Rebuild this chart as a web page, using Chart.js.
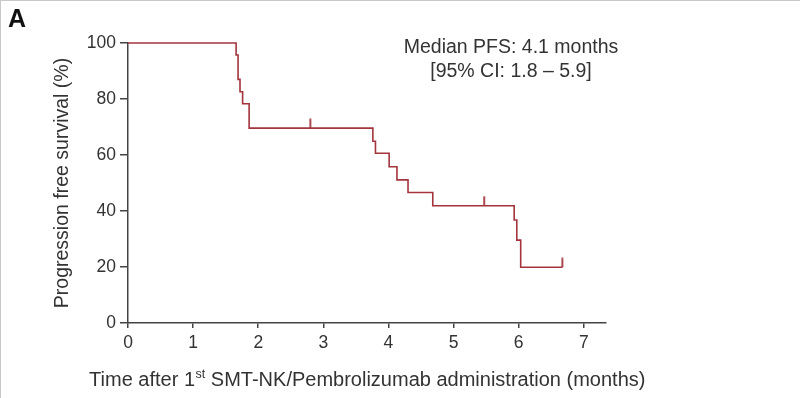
<!DOCTYPE html>
<html>
<head>
<meta charset="utf-8">
<script src="https://cdn.jsdelivr.net/npm/chart.js@4.4.0/dist/chart.umd.min.js"></script>
<style>
  html, body { margin: 0; padding: 0; background: #fff; }
  #wrap { position: relative; width: 800px; height: 398px; box-sizing: border-box; border-top: 1px solid #c8c8c8; border-left: 1px solid #c8c8c8; }
</style>
</head>
<body>
<div id="wrap"><canvas id="grafico"></canvas></div>
<script>
// curva Kaplan-Meier (meses, %)
let tiempos = [0, 1.66, 1.69, 1.72, 1.76, 1.86, 3.76, 3.80, 4.01, 4.13, 4.30, 4.68, 5.93, 5.97, 6.03, 6.67];
let supervivencia = [100, 95.7, 87.0, 82.6, 78.3, 69.6, 64.9, 60.6, 55.8, 51.1, 46.6, 41.9, 36.8, 29.6, 19.9, 19.9];

// censurados
let tiemposCensura = [2.80, 5.47, 6.67];
let supCensura = [69.6, 41.9, 19.9];

let ticksX = [0, 1, 2, 3, 4, 5, 6, 7];
let ticksY = [0, 20, 40, 60, 80, 100];

const ROJO = "#a3343c";
const GRIS = "#444";
const FUENTE = "'Liberation Sans', Arial, sans-serif";

// marca de censura: raya vertical hacia arriba
function marcaCensura() {
    let c = document.createElement("canvas");
    c.width = 4; c.height = 20;
    let ctx = c.getContext("2d");
    ctx.strokeStyle = ROJO;
    ctx.lineWidth = 1.8;
    ctx.beginPath();
    ctx.moveTo(2, 0.5);
    ctx.lineTo(2, 10);
    ctx.stroke();
    return c;
}

// textos extra: letra del panel, mediana y titulo del eje x con superindice
const textos = {
    id: "textos",
    afterDraw(chart) {
        let ctx = chart.ctx;
        ctx.save();
        ctx.fillStyle = "#111";
        ctx.font = "bold 25px " + FUENTE;
        ctx.textBaseline = "middle";
        ctx.textAlign = "left";
        ctx.fillText("A", 7, 19);

        ctx.fillStyle = "#333";
        ctx.font = "19.5px " + FUENTE;
        ctx.textAlign = "center";
        ctx.fillText("Median PFS: 4.1 months", 510, 47);
        ctx.fillText("[95% CI: 1.8 \u2013 5.9]", 510, 71);

        // titulo eje x, centrado bajo el area
        let p1 = "Time after 1", sup = "st", p2 = " SMT-NK/Pembrolizumab administration (months)";
        ctx.textAlign = "left";
        ctx.textBaseline = "alphabetic";
        let fGrande = "20px " + FUENTE, fChica = "12.5px " + FUENTE;
        ctx.font = fGrande;
        let w1 = ctx.measureText(p1).width, w3 = ctx.measureText(p2).width;
        ctx.font = fChica;
        let w2 = ctx.measureText(sup).width;
        let area = chart.chartArea;
        let x = (area.left + area.right) / 2 - (w1 + w2 + w3) / 2;
        let y = 385;
        ctx.font = fGrande;
        ctx.fillText(p1, x, y);
        x += w1;
        ctx.font = fChica;
        ctx.fillText(sup, x + 0.5, y - 8);
        x += w2 + 0.5;
        ctx.font = fGrande;
        ctx.fillText(p2, x, y);
        ctx.restore();
    }
};

new Chart(document.getElementById("grafico"), {
    data: {
        datasets: [
            {
                type: "line",
                data: tiempos.map((t, i) => ({ x: t, y: supervivencia[i] })),
                stepped: "before",
                borderColor: ROJO,
                borderWidth: 1.6,
                pointRadius: 0,
                fill: false,
                clip: 6
            },
            {
                type: "scatter",
                data: tiemposCensura.map((t, i) => ({ x: t, y: supCensura[i] })),
                pointStyle: marcaCensura(),
                pointRadius: 5,
                clip: 12
            }
        ]
    },
    options: {
        responsive: true,
        maintainAspectRatio: false,
        animation: false,
        layout: { padding: { left: 0, top: 42, right: 194, bottom: 0 } },
        plugins: { legend: { display: false }, tooltip: { enabled: false } },
        scales: {
            x: {
                type: "linear",
                min: 0,
                max: 7.34,
                afterFit: s => { s.height = 75; },
                afterBuildTicks: s => { s.ticks = ticksX.map(v => ({ value: v })); },
                ticks: { color: "#333", font: { size: 17.5, family: FUENTE }, padding: 5, maxRotation: 0 },
                grid: { drawOnChartArea: false, drawTicks: true, tickLength: 5, color: GRIS, lineWidth: 1.5 },
                border: { color: GRIS, width: 1.5 }
            },
            y: {
                min: 0,
                max: 100,
                afterFit: s => { s.width = 127; },
                afterBuildTicks: s => { s.ticks = ticksY.map(v => ({ value: v })); },
                ticks: { color: "#333", font: { size: 17.5, family: FUENTE }, padding: 4 },
                grid: { drawOnChartArea: false, drawTicks: true, tickLength: 8, color: GRIS, lineWidth: 1.5 },
                border: { color: GRIS, width: 1.5 },
                title: {
                    display: true,
                    text: "Progression free survival (%)",
                    color: "#333",
                    font: { size: 19.5, family: FUENTE },
                    padding: { top: 50, bottom: 0 }
                }
            }
        }
    },
    plugins: [textos]
});
</script>
</body>
</html>
